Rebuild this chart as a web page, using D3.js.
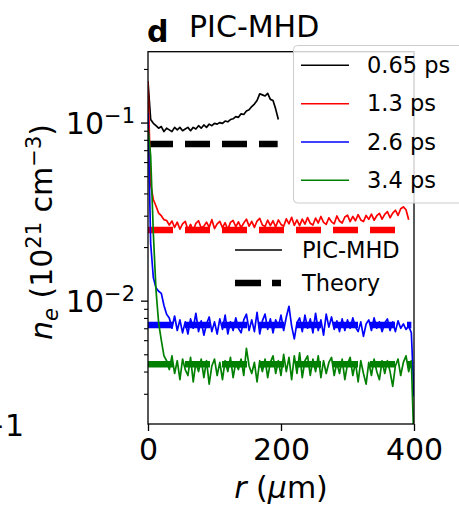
<!DOCTYPE html>
<html>
<head>
<meta charset="utf-8">
<script src="https://cdn.jsdelivr.net/npm/d3@7"></script>
<style>
  html, body { margin: 0; padding: 0; background: #fff; }
  svg { display: block; font-family: "DejaVu Sans", sans-serif; }
</style>
</head>
<body>
<svg id="chart" width="459" height="510"></svg>
<script>
// ---------------- data ----------------
const rGrid = [0,4,8,12,16,20,24,28,32,36,40,44,48,52,56,60,64,68,72,76,80,84,88,92,96,100,
  104,108,112,116,120,124,128,132,136,140,144,148,152,156,160,164,168,172,176,180,184,188,192,196,
  200,204,208,212,216,220,224,228,232,236,240,244,248,252,256,260,264,268,272,276,280,284,288,292,296,
  300,304,308,312,316,320,324,328,332,336,340,344,348,352,356,360,364,368,372,376,380,384,388,392,396,400];

const seriesLabels = ["0.65 ps", "1.3 ps", "2.6 ps", "3.4 ps"];
const seriesColors = ["#000000", "#ff0000", "#0000ff", "#008000"];

const ne065 = [
  0.170,0.104,0.099,0.096,0.093,0.095,0.089,0.093,0.091,0.089,
  0.094,0.091,0.094,0.090,0.092,0.094,0.090,0.094,0.092,0.096,
  0.093,0.097,0.094,0.098,0.096,0.099,0.098,0.100,0.099,0.102,
  0.101,0.104,0.105,0.108,0.107,0.112,0.111,0.116,0.118,0.123,
  0.127,0.133,0.145,0.143,0.141,0.146,0.135,0.133,0.119,0.104];

const ne13 = [
  0.170,0.045,0.037,0.034,0.031,0.030,0.0285,0.0282,0.0266,0.0280,
  0.0258,0.0276,0.0252,0.0270,0.0279,0.0250,0.0268,0.0247,0.0272,0.0281,
  0.0256,0.0262,0.0276,0.0258,0.0285,0.0254,0.0270,0.0279,0.0257,0.0274,
  0.0251,0.0275,0.0282,0.0260,0.0277,0.0257,0.0273,0.0287,0.0262,0.0279,
  0.0258,0.0280,0.0290,0.0266,0.0261,0.0283,0.0264,0.0281,0.0259,0.0284,
  0.0268,0.0262,0.0288,0.0270,0.0294,0.0265,0.0284,0.0264,0.0287,0.0269,
  0.0293,0.0272,0.0266,0.0291,0.0273,0.0297,0.0275,0.0268,0.0292,0.0277,
  0.0270,0.0299,0.0280,0.0273,0.0295,0.0302,0.0278,0.0297,0.0281,0.0304,
  0.0284,0.0278,0.0301,0.0286,0.0306,0.0283,0.0300,0.0309,0.0287,0.0305,
  0.0316,0.0292,0.0310,0.0322,0.0301,0.0328,0.0336,0.0324,0.0285];

const ne26 = [
  0.113,0.021,0.0135,0.0118,0.0113,0.0110,0.0094,0.0084,0.0080,0.0070,
  0.0082,0.0068,0.0078,0.0066,0.0076,0.0065,0.0079,0.0070,0.0085,0.0067,
  0.0077,0.0064,0.0074,0.0081,0.0067,0.0076,0.0065,0.0079,0.0069,0.0083,
  0.0065,0.0076,0.0068,0.0080,0.0070,0.0066,0.0078,0.0084,0.0068,0.0078,
  0.0067,0.0086,0.0065,0.0077,0.0084,0.0069,0.0079,0.0066,0.0078,0.0071,
  0.0083,0.0068,0.0081,0.0093,0.0072,0.0061,0.0075,0.0080,0.0067,0.0083,
  0.0070,0.0079,0.0066,0.0085,0.0068,0.0078,0.0064,0.0084,0.0071,0.0081,
  0.0069,0.0077,0.0067,0.0079,0.0068,0.0078,0.0070,0.0080,0.0071,0.0067,
  0.0076,0.0063,0.0074,0.0078,0.0068,0.0080,0.0070,0.0076,0.0067,0.0075,
  0.0079,0.0068,0.0076,0.0067,0.0077,0.0070,0.0074,0.0069,0.0072,0.0066,
  0.0029];

const ne34 = [
  0.093,0.065,0.024,0.0115,0.0075,0.0060,0.0049,0.0046,0.0041,0.0049,
  0.0039,0.0046,0.0036,0.0047,0.0041,0.0038,0.0048,0.0035,0.0045,0.0040,
  0.0047,0.0037,0.0046,0.0034,0.0043,0.0047,0.0038,0.0045,0.0036,0.0046,
  0.0040,0.0048,0.0037,0.0045,0.0041,0.0047,0.0038,0.0054,0.0043,0.0039,
  0.0045,0.0035,0.0046,0.0040,0.0047,0.0037,0.0045,0.0049,0.0039,0.0046,
  0.0038,0.0050,0.0040,0.0048,0.0036,0.0049,0.0039,0.0051,0.0037,0.0046,
  0.0049,0.0038,0.0047,0.0040,0.0049,0.0037,0.0046,0.0039,0.0045,0.0048,
  0.0038,0.0045,0.0039,0.0047,0.0036,0.0044,0.0048,0.0038,0.0045,0.0035,
  0.0046,0.0039,0.0034,0.0045,0.0038,0.0047,0.0040,0.0036,0.0046,0.0039,
  0.0046,0.0040,0.0033,0.0043,0.0047,0.0038,0.0045,0.0049,0.0040,0.0046,
  0.0015];

const theoryValues = [0.0759, 0.0249, 0.0073, 0.0044];
const theoryEnd = [195, 388, 396, 396];

const xTicks = [0, 200, 400];
const yMajorTicks = [0.1, 0.01];
const yMajorExp = ["−1", "−2"];

// ---------------- layout ----------------
const svg = d3.select("#chart");
const L = 148, R = 414, T = 51.7, B = 424;
const x = d3.scaleLinear().domain([0, 400]).range([L, R]);
const y = d3.scaleLog().domain([0.00203, 0.25]).range([B, T]);

svg.append("defs").append("clipPath").attr("id", "plotclip")
  .append("rect").attr("x", L).attr("y", T).attr("width", R - L).attr("height", B - T);

const plot = svg.append("g").attr("clip-path", "url(#plotclip)");

// theory lines (dashed, thick)
theoryValues.forEach((v, i) => {
  plot.append("path")
    .datum([[0, v], [theoryEnd[i], v]])
    .attr("d", d3.line().x(d => x(d[0])).y(d => y(d[1])))
    .attr("fill", "none")
    .attr("stroke", seriesColors[i])
    .attr("stroke-width", 6.5)
    .attr("stroke-dasharray", "25,12");
});

// simulation lines
[ne065, ne13, ne26, ne34].forEach((vals, i) => {
  const pts = vals.map((v, k) => [rGrid[k], v]);
  plot.append("path")
    .datum(pts)
    .attr("d", d3.line().x(d => x(d[0])).y(d => y(d[1])))
    .attr("fill", "none")
    .attr("stroke", seriesColors[i])
    .attr("stroke-width", 1.7)
    .attr("stroke-linejoin", "round");
});

// axes
const xAxis = d3.axisBottom(x).tickValues(xTicks).tickSize(7).tickPadding(7).tickFormat(d3.format("d"));
const gx = svg.append("g").attr("transform", `translate(0,${B})`).call(xAxis);
gx.select(".domain").remove();
gx.selectAll(".tick line").attr("stroke", "#000").attr("stroke-width", 1.3);
gx.selectAll(".tick text").attr("font-size", 30).attr("fill", "#000")
  .attr("font-family", "DejaVu Sans").attr("dy", "0.72em");

// y minor ticks
const minorTicks = [];
[0.001, 0.01, 0.1].forEach(dec => {
  for (let m = 2; m <= 9; m++) {
    const v = m * dec;
    if (v >= y.domain()[0] && v <= y.domain()[1]) minorTicks.push(v);
  }
});
const yMinorAxis = d3.axisLeft(y).tickValues(minorTicks).tickSize(4).tickFormat("");
const gym = svg.append("g").attr("transform", `translate(${L},0)`).call(yMinorAxis);
gym.select(".domain").remove();
gym.selectAll(".tick line").attr("stroke", "#000").attr("stroke-width", 1.1);

const yMajorAxis = d3.axisLeft(y).tickValues(yMajorTicks).tickSize(7).tickFormat("");
const gyM = svg.append("g").attr("transform", `translate(${L},0)`).call(yMajorAxis);
gyM.select(".domain").remove();
gyM.selectAll(".tick line").attr("stroke", "#000").attr("stroke-width", 1.3);

// y tick labels 10^{-k}
yMajorTicks.forEach((v, i) => {
  const t = svg.append("text")
    .attr("x", 135).attr("y", y(v) + 11.3)
    .attr("text-anchor", "end").attr("font-size", 30).attr("fill", "#000");
  t.append("tspan").text("10");
  t.append("tspan").attr("dy", -11).attr("font-size", 21).text(yMajorExp[i]);
});

// spines
svg.append("rect").attr("x", L).attr("y", T).attr("width", R - L).attr("height", B - T)
  .attr("fill", "none").attr("stroke", "#000").attr("stroke-width", 1.3);

// axis labels
const xl = svg.append("text").attr("x", 281).attr("y", 498).attr("text-anchor", "middle")
  .attr("font-size", 30).attr("fill", "#000");
xl.append("tspan").attr("font-style", "italic").text("r");
xl.append("tspan").text(" (");
xl.append("tspan").attr("font-style", "italic").text("μ");
xl.append("tspan").text("m)");

const yl = svg.append("text").attr("transform", "translate(52,232) rotate(-90)")
  .attr("text-anchor", "middle").attr("font-size", 30).attr("fill", "#000");
yl.append("tspan").attr("font-style", "italic").text("n");
yl.append("tspan").attr("font-style", "italic").attr("font-size", 21).attr("dy", 6).text("e");
yl.append("tspan").attr("dy", -6).text(" (10");
yl.append("tspan").attr("font-size", 21).attr("dy", -11).text("21");
yl.append("tspan").attr("dy", 11).text(" cm");
yl.append("tspan").attr("font-size", 21).attr("dy", -11).text("−3");
yl.append("tspan").attr("dy", 11).text(")");

// title
svg.append("text").attr("x", 147).attr("y", 42).attr("font-size", 30).attr("font-weight", "bold")
  .attr("fill", "#000").text("d");
svg.append("text").attr("x", 189).attr("y", 37).attr("font-size", 30).attr("fill", "#000").text("PIC-MHD");

// neighbouring panel residue (cut off at the left edge, as in the reference)
svg.append("text").attr("x", 24).attr("y", 436).attr("text-anchor", "end").attr("font-size", 30)
  .attr("fill", "#000").text("−1");

// legend 1 (times)
svg.append("rect").attr("x", 293.5).attr("y", 45.5).attr("width", 200).attr("height", 157.5)
  .attr("rx", 4).attr("fill", "#fff").attr("fill-opacity", 0.8).attr("stroke", "#cccccc").attr("stroke-width", 1);
const legY = [65.3, 103.7, 142, 180.3];
seriesLabels.forEach((lab, i) => {
  svg.append("line").attr("x1", 301).attr("x2", 349).attr("y1", legY[i]).attr("y2", legY[i])
    .attr("stroke", seriesColors[i]).attr("stroke-width", 1.6);
  svg.append("text").attr("x", 367).attr("y", legY[i] + 7.7).attr("font-size", 22.5)
    .attr("fill", "#000").text(lab);
});

// legend 2 (styles)
svg.append("line").attr("x1", 235).attr("x2", 282).attr("y1", 250).attr("y2", 250)
  .attr("stroke", "#000").attr("stroke-width", 1.6);
svg.append("text").attr("x", 302).attr("y", 258).attr("font-size", 22.5).attr("fill", "#000").text("PIC-MHD");
svg.append("line").attr("x1", 235).attr("x2", 281).attr("y1", 283).attr("y2", 283)
  .attr("stroke", "#000").attr("stroke-width", 6.5).attr("stroke-dasharray", "26,11");
svg.append("text").attr("x", 302).attr("y", 291).attr("font-size", 22.5).attr("fill", "#000").text("Theory");
</script>
</body>
</html>
